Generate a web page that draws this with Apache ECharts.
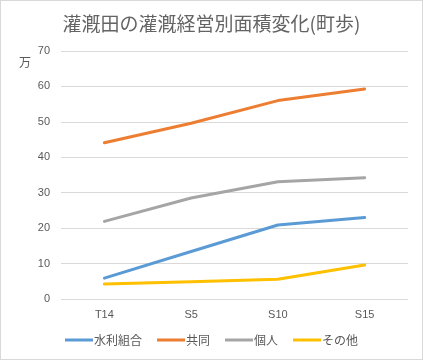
<!DOCTYPE html>
<html><head><meta charset="utf-8">
<script src="https://cdn.jsdelivr.net/npm/echarts@6/dist/echarts.min.js"></script>
<style>html,body{margin:0;padding:0;background:#fff}#c{width:421px;height:358px;border:1px solid #d9d9d9}</style>
</head><body><div id="c"></div>
<script>
const categories = ['T14','S5','S10','S15'];
const suiri = [5.9, 13.4, 20.9, 23.0];
const kyodo = [44.1, 49.6, 56.0, 59.3];
const kojin = [21.9, 28.5, 33.1, 34.2];
const sonota = [4.2, 4.9, 5.6, 9.6];
const seriesNames = ['水利組合','共同','個人','その他'];
const colors = ['#5B9BD5','#ED7D31','#A5A5A5','#FFC000'];
const font = '"Noto Sans CJK JP", sans-serif';
const chart = echarts.init(document.getElementById('c'));
const mk = (name, data, i) => ({name, type:'line', data, symbol:'none', smooth:false,
  lineStyle:{width:3, color:colors[i], cap:'round'}, itemStyle:{color:colors[i]}});
chart.setOption({
  animation:false,
  title:{text:'灌漑田の灌漑経営別面積変化(町歩)', left:'center', top:8,
    textStyle:{fontFamily:font, fontSize:19, fontWeight:'normal', color:'#646464'}},
  grid:{left:60, right:14, top:50, bottom:60},
  legend:{bottom:8, left:'center', itemWidth:28, itemHeight:3, itemGap:15, icon:'rect',
    textStyle:{fontFamily:font, fontSize:12, color:'#595959', padding:[0,0,0,-4]}},
  xAxis:{type:'category', data:categories, boundaryGap:true,
    axisLine:{show:false}, axisTick:{show:false},
    axisLabel:{color:'#595959', fontSize:11, margin:10, fontFamily:'Liberation Sans'}},
  yAxis:{type:'value', min:0, max:70, interval:10, name:'万', nameLocation:'end',
    nameGap:0, nameTextStyle:{fontFamily:font, fontSize:12, color:'#595959', align:'right', padding:[0,30,-17,0]},
    axisLine:{show:false}, axisTick:{show:false},
    axisLabel:{color:'#595959', fontSize:11, margin:11, fontFamily:'Liberation Sans'},
    splitLine:{lineStyle:{color:'#d9d9d9', width:1}}},
  series:[mk(seriesNames[0], suiri, 0), mk(seriesNames[1], kyodo, 1), mk(seriesNames[2], kojin, 2), mk(seriesNames[3], sonota, 3)]
});
</script></body></html>
